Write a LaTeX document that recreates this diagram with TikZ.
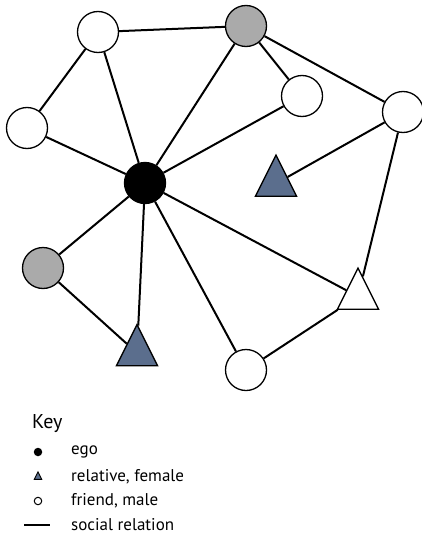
\documentclass[tikz,border=0pt]{standalone}
\usepackage{fontspec}
\setmainfont{PT Sans}
\usetikzlibrary{shapes.geometric}

\definecolor{kingray}{HTML}{AAAAAA}
\definecolor{kinblue}{HTML}{5B6E8D}

\begin{document}
\begin{tikzpicture}[x=1pt, y=-1pt,
    male/.style={circle, draw, fill=white, line width=1.3pt,
      minimum size=41pt, inner sep=0pt},
    female/.style={isosceles triangle, shape border rotate=90,
      isosceles triangle stretches, draw, fill=white, line width=1.3pt,
      minimum width=41pt, minimum height=41pt, inner sep=0pt},
    tie/.style={line width=2pt},
    keytext/.style={anchor=west, font=\fontsize{17}{19}\selectfont, inner sep=0pt}]
      \useasboundingbox (0,0) rectangle (422,535);

      % People
      \node[male, fill=black] (ego) at (145,183) {};
      \node[male] (topleft) at (98,32) {};
      \node[male] (left) at (27,128) {};
      \node[male, fill=kingray] (top) at (246,26) {};
      \node[male] (midright) at (302,96) {};
      \node[male] (farright) at (403,112) {};
      \node[female, fill=kinblue] (inner) at (276,183.5) {};
      \node[female] (outer) at (358,296.5) {};
      \node[male] (bottom) at (246,370) {};
      \node[female, fill=kinblue] (below) at (137,353) {};
      \node[male, fill=kingray] (lowleft) at (43,268) {};

      % Relations
      \foreach \other in {topleft, left, top, midright, outer, bottom, below, lowleft}
        \draw[tie] (ego) -- (\other);
      \draw[tie] (topleft) -- (left);
      \draw[tie] (topleft) -- (top);
      \draw[tie] (top) -- (midright);
      \draw[tie] (top) -- (farright);
      \draw[tie] (farright) -- (inner);
      \draw[tie] (farright) -- (outer);
      \draw[tie] (outer) -- (bottom);
      \draw[tie] (lowleft) -- (below);

      % Key
      \node[anchor=west, font=\fontsize{20}{22}\selectfont, inner sep=0pt]
        (keyhead) at (32,424) {Key};
      \node[circle, fill=black, minimum size=8.5pt, inner sep=0pt] (keyego) at (38,452) {};
      \node[isosceles triangle, shape border rotate=90, isosceles triangle stretches,
        draw, fill=kinblue, line width=0.9pt, minimum width=7.5pt, minimum height=7.5pt,
        inner sep=0pt] (keykin) at (38,477) {};
      \node[circle, draw, line width=1pt, minimum size=7.5pt, inner sep=0pt] (keyfriend) at (38,501) {};
      \coordinate (keya) at (24,525);
      \coordinate (keyb) at (50,525);
      \draw[tie] (keya) -- (keyb);
      \node[keytext] (egolabel) at (71,452) {ego};
      \node[keytext] (kinlabel) at (71,477) {relative, female};
      \node[keytext] (friendlabel) at (71,501) {friend, male};
      \node[keytext] (tielabel) at (71,525) {social relation};
    \end{tikzpicture}
\end{document}
